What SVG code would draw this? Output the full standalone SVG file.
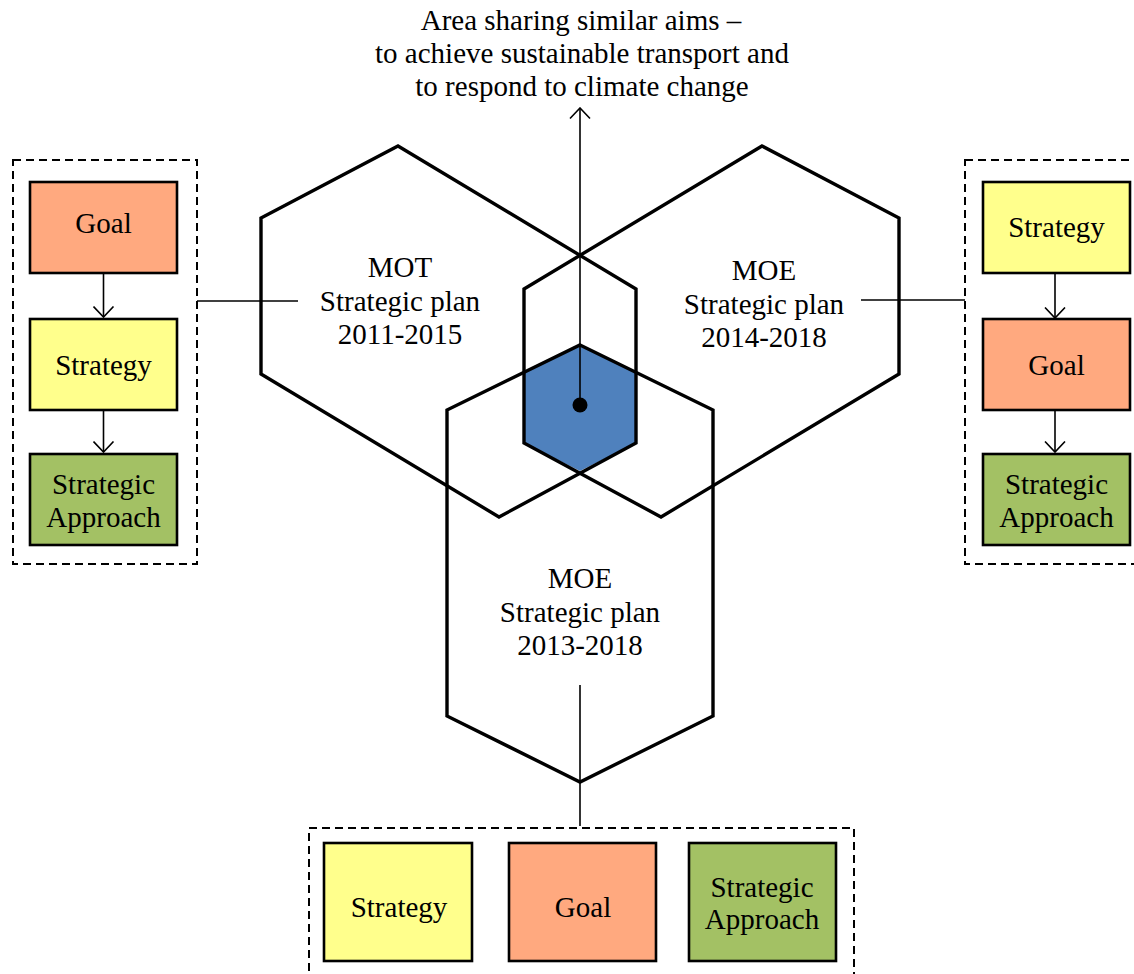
<svg xmlns="http://www.w3.org/2000/svg" width="1134" height="974" viewBox="0 0 1134 974">
<style>
text{font-family:"Liberation Serif","Times New Roman",serif;font-size:29px;fill:#000;text-anchor:middle}
.hex{fill:none;stroke:#000;stroke-width:3.4;stroke-linejoin:miter}
.dash{fill:none;stroke:#000;stroke-width:2;stroke-dasharray:8 5}
.box{stroke:#000;stroke-width:2.6}
.goal{fill:#FFA97F}
.strat{fill:#FFFF8C}
.appr{fill:#A3C164}
.conn{fill:none;stroke:#000;stroke-width:1.6}
</style>
<defs>
<marker id="vh" viewBox="0 0 13 22" markerWidth="13" markerHeight="22" refX="11.5" refY="11" orient="auto" markerUnits="userSpaceOnUse">
<path d="M1,1 L11.5,11 L1,21" fill="none" stroke="#000" stroke-width="1.6"/>
</marker>
</defs>
<rect width="1134" height="974" fill="#fff"/>

<g id="title">
<text x="581" y="30">Area sharing similar aims –</text>
<text x="582" y="63">to achieve sustainable transport and</text>
<text x="582" y="96">to respond to climate change</text>
</g>

<g id="overlap">
<polygon points="580,345 636,372.5 636,443 580,471 524,443 524,372.5" fill="#4F81BD"/>
</g>

<g id="hex-mot">
<polygon class="hex" points="398,146 636,289 636,443 499,517 261,374 261,218"/>
<text x="400" y="277">MOT</text>
<text x="400" y="311">Strategic plan</text>
<text x="400" y="344">2011-2015</text>
</g>

<g id="hex-moe2014">
<polygon class="hex" points="762,146 524,289 524,443 661,517 899,374 899,218"/>
<text x="764" y="280">MOE</text>
<text x="764" y="314">Strategic plan</text>
<text x="764" y="347">2014-2018</text>
</g>

<g id="hex-moe2013">
<polygon class="hex" points="580,345 713,410 713,716 580,782 447,716 447,410"/>
<text x="580" y="588">MOE</text>
<text x="580" y="622">Strategic plan</text>
<text x="580" y="655">2013-2018</text>
</g>

<g id="group-left">
<rect class="dash" x="13" y="160" width="184" height="404"/>
<g id="left-goal"><rect class="box goal" x="30" y="182" width="147" height="91"/><text x="103.5" y="233">Goal</text></g>
<g id="left-strategy"><rect class="box strat" x="30" y="319" width="147" height="91"/><text x="103.5" y="375">Strategy</text></g>
<g id="left-approach"><rect class="box appr" x="30" y="454" width="147" height="91"/><text x="103.5" y="494">Strategic</text><text x="103.5" y="527">Approach</text></g>
</g>

<g id="group-right">
<rect class="dash" x="965" y="160" width="184" height="404"/>
<g id="right-strategy"><rect class="box strat" x="983" y="182" width="147" height="91"/><text x="1056.5" y="237">Strategy</text></g>
<g id="right-goal"><rect class="box goal" x="983" y="319" width="147" height="91"/><text x="1056.5" y="375">Goal</text></g>
<g id="right-approach"><rect class="box appr" x="983" y="454" width="147" height="91"/><text x="1056.5" y="494">Strategic</text><text x="1056.5" y="527">Approach</text></g>
</g>

<g id="group-bottom">
<rect class="dash" x="309" y="828" width="545" height="170"/>
<g id="bottom-strategy"><rect class="box strat" x="324" y="843" width="148" height="118"/><text x="399" y="917">Strategy</text></g>
<g id="bottom-goal"><rect class="box goal" x="509" y="843" width="147" height="118"/><text x="583" y="917">Goal</text></g>
<g id="bottom-approach"><rect class="box appr" x="689" y="843" width="147" height="118"/><text x="762" y="897">Strategic</text><text x="762" y="929">Approach</text></g>
</g>

<g id="connectors">
<line class="conn" x1="580" y1="405" x2="580" y2="108" marker-end="url(#vh)"/>
<circle cx="580" cy="405" r="7.5" fill="#000"/>
<line class="conn" x1="197" y1="301" x2="298" y2="301"/>
<line class="conn" x1="861" y1="300" x2="965" y2="300"/>
<line class="conn" x1="580" y1="685" x2="580" y2="826"/>
<line class="conn" x1="103.5" y1="274" x2="103.5" y2="317" marker-end="url(#vh)"/>
<line class="conn" x1="103.5" y1="411" x2="103.5" y2="452" marker-end="url(#vh)"/>
<line class="conn" x1="1055" y1="274" x2="1055" y2="318" marker-end="url(#vh)"/>
<line class="conn" x1="1055" y1="411" x2="1055" y2="452" marker-end="url(#vh)"/>
</g>
</svg>
